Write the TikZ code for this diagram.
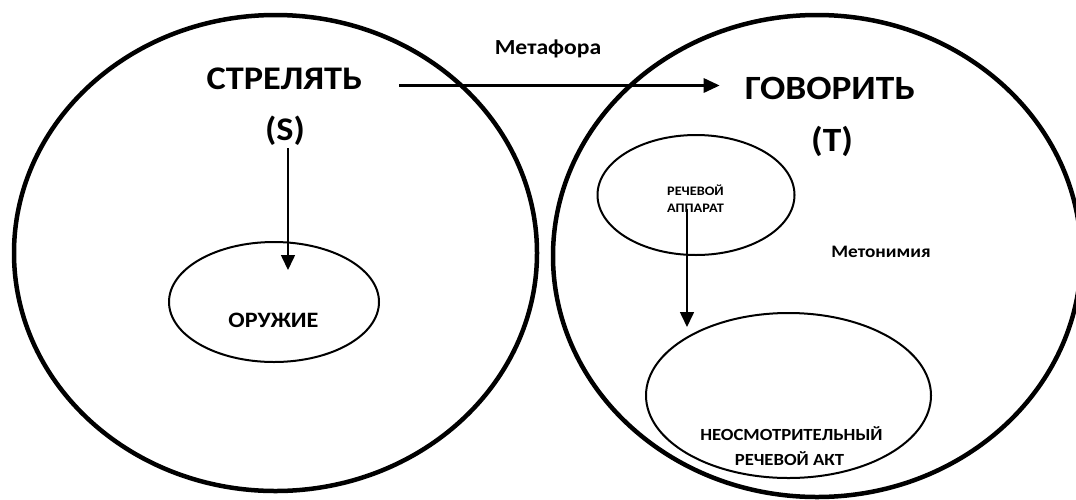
\documentclass[tikz,border=0pt]{standalone}
\usepackage{fontspec}
\setmainfont{Carlito}
\usetikzlibrary{arrows.meta,shapes.geometric}
\newcommand\hs[1]{\scalebox{1.1}[1]{#1}}
\newcommand\fs[1]{\fontsize{#1}{#1}\selectfont}
\begin{document}
\begin{tikzpicture}[x=1pt,y=-1pt,
  big/.style={ellipse, draw, line width=4.5pt, inner sep=0pt},
  small/.style={ellipse, draw, line width=2pt, inner sep=0pt},
  lbl/.style={inner sep=0pt, anchor=base, font=\bfseries},
  arr/.style={-{Triangle[length=15pt,width=14pt]}, line width=1.6pt},
  marr/.style={-{Triangle[length=16pt,width=14pt]}, line width=3pt}]
\useasboundingbox (0,0) rectangle (1076,499);
\clip (0,0) rectangle (1076,499);
% domains
\node[big, minimum width=523pt, minimum height=476pt] (S) at (275.5,253) {};
\node[big, minimum width=528pt, minimum height=482pt] (T) at (817,256) {};
% inner ellipses
\node[small, minimum width=210pt, minimum height=120pt] (weap) at (274,302) {};
\node[small, minimum width=197pt, minimum height=120pt] (app) at (696,195) {};
\node[small, minimum width=285pt, minimum height=165pt] (act) at (788.5,395.5) {};
% labels
\node[lbl, font=\bfseries\fs{33}] (strel) at (284.5,89) {\hs{СТРЕЛЯТЬ}};
\node[lbl, font=\bfseries\fs{33}] (s) at (285,140) {\hs{(S)}};
\node[lbl, font=\bfseries\fs{34}] (gov) at (830,99) {\hs{ГОВОРИТЬ}};
\node[lbl, font=\bfseries\fs{34}] (t) at (832,151) {\hs{(Т)}};
\node[lbl, font=\bfseries\fs{21.5}] (metaf) at (548,54) {\hs{Метафора}};
\node[lbl, font=\bfseries\fs{22}] (weapt) at (273.5,327) {\hs{ОРУЖИЕ}};
\node[lbl, font=\bfseries\fs{13}] (app1) at (695.5,195.5) {\hs{РЕЧЕВОЙ}};
\node[lbl, font=\bfseries\fs{13}] (app2) at (695.5,212) {\hs{АППАРАТ}};
\node[lbl, font=\bfseries\fs{17.5}] (meton) at (881,257) {\hs{Метонимия}};
\node[lbl, font=\bfseries\fs{17}] (act1) at (791.5,440) {\hs{НЕОСМОТРИТЕЛЬНЫЙ}};
\node[lbl, font=\bfseries\fs{17}] (act2) at (789.5,465) {\hs{РЕЧЕВОЙ АКТ}};
% connectors
\coordinate (ma) at ([xshift=37pt,yshift=3.5pt]strel.base east);
\coordinate (la) at ([xshift=3pt,yshift=-8pt]s.base);
\coordinate (ra) at ([xshift=-9pt,yshift=-14pt]app.center);
\draw[marr] (ma) -- ([xshift=-25pt]ma -| gov.west);
\draw[arr] (la) -- ([yshift=32pt]la |- weap.center);
\draw[arr] (ra) -- ([yshift=-15pt]ra |- act.north);
\end{tikzpicture}
\end{document}
